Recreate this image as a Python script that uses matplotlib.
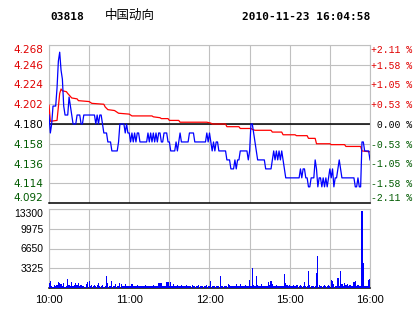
import matplotlib
matplotlib.use("Agg")
import matplotlib.pyplot as plt

# minutes since 10:00 (morning 10:00-12:30, afternoon 14:30-16:00 joined)
prev_close = 4.180

price = [
    4.19, 4.17, 4.18, 4.20, 4.20, 4.20, 4.22, 4.25, 4.26, 4.24,
    4.23, 4.20, 4.19, 4.19, 4.19, 4.21, 4.20, 4.19, 4.18, 4.18,
    4.18, 4.19, 4.19, 4.19, 4.18, 4.18, 4.19, 4.19, 4.19, 4.19,
    4.19, 4.19, 4.19, 4.19, 4.19, 4.18, 4.19, 4.18, 4.19, 4.19,
    4.18, 4.17, 4.17, 4.17, 4.16, 4.16, 4.16, 4.15, 4.15, 4.15,
    4.15, 4.15, 4.16, 4.18, 4.18, 4.18, 4.18, 4.17, 4.18, 4.17,
    4.17, 4.16, 4.17, 4.16, 4.17, 4.16, 4.17, 4.17, 4.16, 4.16,
    4.16, 4.16, 4.16, 4.16, 4.17, 4.16, 4.17, 4.16, 4.17, 4.16,
    4.17, 4.16, 4.17, 4.17, 4.16, 4.16, 4.17, 4.17, 4.17, 4.16,
    4.16, 4.15, 4.15, 4.15, 4.15, 4.16, 4.15, 4.16, 4.17, 4.16,
    4.16, 4.16, 4.16, 4.16, 4.16, 4.17, 4.17, 4.17, 4.17, 4.16,
    4.16, 4.16, 4.16, 4.16, 4.16, 4.16, 4.16, 4.16, 4.17, 4.16,
    4.17, 4.16, 4.15, 4.16, 4.15, 4.16, 4.16, 4.15, 4.15, 4.15,
    4.15, 4.15, 4.15, 4.14, 4.14, 4.14, 4.13, 4.13, 4.13, 4.14,
    4.13, 4.14, 4.14, 4.15, 4.15, 4.15, 4.15, 4.15, 4.15, 4.14,
    4.15, 4.18, 4.18, 4.17, 4.16, 4.15, 4.14, 4.14, 4.14, 4.14,
    4.14, 4.14, 4.13, 4.13, 4.13, 4.13, 4.13, 4.14, 4.15, 4.14,
    4.15, 4.14, 4.15, 4.14, 4.15, 4.14, 4.13, 4.12, 4.12, 4.12,
    4.12, 4.12, 4.12, 4.12, 4.12, 4.12, 4.12, 4.12, 4.13, 4.12,
    4.13, 4.13, 4.12, 4.12, 4.11, 4.11, 4.12, 4.12, 4.12, 4.14,
    4.13, 4.11, 4.12, 4.12, 4.11, 4.12, 4.11, 4.12, 4.11, 4.12,
    4.13, 4.12, 4.13, 4.11, 4.12, 4.12, 4.13, 4.14, 4.13, 4.12,
    4.12, 4.12, 4.12, 4.12, 4.12, 4.12, 4.12, 4.12, 4.12, 4.11,
    4.11, 4.12, 4.11, 4.11, 4.16, 4.16, 4.15, 4.15, 4.15, 4.15,
    4.14,
]

avg_min = [0, 1, 6, 7, 8, 9, 10, 13, 14, 17, 21, 22, 30, 32, 41, 42, 44, 49,
           52, 60, 62, 77, 78, 83, 84, 89, 90, 97, 98, 118, 121, 122, 132,
           133, 142, 143, 151, 152, 154, 166, 167, 174, 175, 184, 185, 193,
           194, 199, 200, 210, 211, 221, 222, 233, 234, 240]
avg_price = [4.201, 4.183, 4.184, 4.199, 4.214, 4.219, 4.217, 4.216, 4.214,
             4.209, 4.208, 4.206, 4.205, 4.203, 4.202, 4.199, 4.196, 4.195,
             4.192, 4.191, 4.189, 4.189, 4.188, 4.187, 4.186, 4.186, 4.184,
             4.184, 4.182, 4.182, 4.181, 4.180, 4.180, 4.177, 4.177, 4.175,
             4.175, 4.174, 4.173, 4.173, 4.171, 4.171, 4.168, 4.168, 4.167,
             4.167, 4.164, 4.164, 4.158, 4.158, 4.157, 4.157, 4.155, 4.155,
             4.150, 4.149]

volume = [
    840, 1230, 340, 250, 450, 340, 500, 1010, 840, 670,
    280, 840, 250, 400, 1570, 450, 280, 1010, 280, 450,
    840, 450, 840, 280, 450, 400, 390, 250, 670, 950,
    1120, 390, 560, 280, 450, 280, 450, 840, 280, 400,
    450, 250, 390, 2070, 840, 280, 390, 1230, 280, 390,
    670, 280, 390, 840, 670, 280, 390, 670, 280, 390,
    280, 390, 670, 280, 390, 280, 560, 390, 280, 390,
    390, 280, 560, 390, 280, 390, 280, 390, 560, 280,
    390, 280, 840, 840, 840, 390, 280, 390, 1010, 1010,
    280, 1010, 390, 670, 280, 390, 560, 280, 390, 560,
    280, 390, 280, 560, 390, 280, 390, 560, 280, 390,
    390, 280, 560, 390, 280, 390, 280, 390, 560, 280,
    390, 1230, 390, 280, 390, 390, 390, 280, 2070, 390,
    390, 390, 280, 390, 670, 560, 390, 390, 280, 390,
    730, 390, 280, 670, 280, 280, 280, 560, 390, 390,
    1400, 390, 3350, 560, 390, 2070, 560, 390, 280, 670,
    390, 390, 390, 280, 1000, 560, 1230, 670, 390, 390,
    560, 390, 390, 280, 390, 390, 2400, 840, 560, 390,
    560, 390, 390, 560, 390, 560, 560, 390, 560, 390,
    390, 950, 390, 280, 2900, 560, 390, 390, 280, 390,
    2515, 5310, 560, 390, 390, 390, 560, 390, 390, 560,
    390, 1400, 1230, 670, 390, 390, 1680, 390, 2900, 670,
    390, 840, 560, 670, 390, 560, 390, 390, 950, 1230,
    390, 560, 390, 390, 12970, 4190, 390, 390, 390, 1400,
    1570,
]

price_ticks = [4.092, 4.114, 4.136, 4.158, 4.180, 4.202, 4.224, 4.246, 4.268]
pct_labels = ["-2.11 %", "-1.58 %", "-1.05 %", "-0.53 %", " 0.00 %",
              "+0.53 %", "+1.05 %", "+1.58 %", "+2.11 %"]
vol_ticks = [0, 3325, 6650, 9975, 13300]
time_ticks = [0, 30, 60, 90, 120, 150, 180, 210, 240]
time_labels = ["10:00", "", "11:00", "", "12:00", "", "15:00", "", "16:00"]

RED = "#ff0000"
RED_TXT = "#e00000"
GREEN_TXT = "#005a00"
GRID = "#c0c0c0"

minutes = list(range(len(price)))


def color_labels(labels):
    for lab, t in zip(labels, price_ticks):
        if t > prev_close + 1e-6:
            lab.set_color(RED_TXT)
        elif t < prev_close - 1e-6:
            lab.set_color(GREEN_TXT)
        else:
            lab.set_color("black")
    # keep end labels inside the panel, as the reference does
    labels[0].set_verticalalignment("bottom")
    labels[-1].set_verticalalignment("top")


fig = plt.figure(figsize=(4.14, 3.14), dpi=100)
fig.patch.set_facecolor("white")

W, H = 414.0, 314.0
ax = fig.add_axes([49 / W, 1 - 203 / H, 321 / W, 158 / H])
axv = fig.add_axes([49 / W, 1 - 288 / H, 321 / W, 79 / H])

# price panel
ax.plot(avg_min, avg_price, color=RED, linewidth=0.9, zorder=3)
ax.plot(minutes, price, color="#0000ff", linewidth=0.9, zorder=4)
ax.axhline(prev_close, color="black", linewidth=1.1, zorder=2)
ax.set_xlim(0, 240)
ax.set_ylim(price_ticks[0], price_ticks[-1])
ax.set_xticks(time_ticks)
ax.set_xticklabels([])
ax.set_yticks(price_ticks)
ax.set_yticklabels([f"{t:.3f}" for t in price_ticks], fontsize=7.5,
                   family="DejaVu Sans")
color_labels(ax.get_yticklabels())
ax.tick_params(length=0, pad=4)
ax.grid(True, color=GRID, linewidth=0.8, zorder=1)
ax.set_axisbelow(True)
for side in ["top", "left", "right"]:
    ax.spines[side].set_color(GRID)
    ax.spines[side].set_linewidth(0.8)
ax.spines["bottom"].set_color("black")
ax.spines["bottom"].set_linewidth(1.1)

axr = ax.twinx()
axr.set_ylim(price_ticks[0], price_ticks[-1])
axr.set_yticks(price_ticks)
axr.set_yticklabels(pct_labels, fontsize=7, family="Liberation Mono")
color_labels(axr.get_yticklabels())
axr.tick_params(length=0, pad=1)
for s in axr.spines.values():
    s.set_visible(False)

# volume panel
axv.bar(minutes, volume, width=0.9, color="#0000ff", linewidth=0, zorder=3)
axv.set_xlim(0, 240)
axv.set_ylim(0, vol_ticks[-1])
axv.set_yticks(vol_ticks)
axv.set_yticklabels([""] + [str(v) for v in vol_ticks[1:]], fontsize=7.5,
                    family="Liberation Sans")
axv.get_yticklabels()[-1].set_verticalalignment("top")
axv.set_xticks(time_ticks)
axv.set_xticklabels(time_labels, fontsize=8, family="Liberation Sans")
axv.tick_params(length=0, pad=4)
axv.tick_params(axis="x", pad=5)
axv.grid(True, color=GRID, linewidth=0.8, zorder=1)
axv.set_axisbelow(True)
for side in ["top", "left", "right"]:
    axv.spines[side].set_color(GRID)
    axv.spines[side].set_linewidth(0.8)
axv.spines["bottom"].set_color("black")
axv.spines["bottom"].set_linewidth(1.1)

# header
fig.text(50 / W, 1 - 16.5 / H, "03818", fontsize=8, fontweight="bold",
         family="DejaVu Sans Mono", va="center", ha="left")
fig.text(105 / W, 1 - 15.5 / H, "中国动向", fontsize=9,
         family=["Noto Sans CJK SC", "DejaVu Sans"], va="center", ha="left")
fig.text(370 / W, 1 - 16.5 / H, "2010-11-23 16:04:58", fontsize=8,
         fontweight="bold", family="DejaVu Sans Mono", va="center", ha="right")

fig.savefig("out.png", dpi=100, facecolor="white")
